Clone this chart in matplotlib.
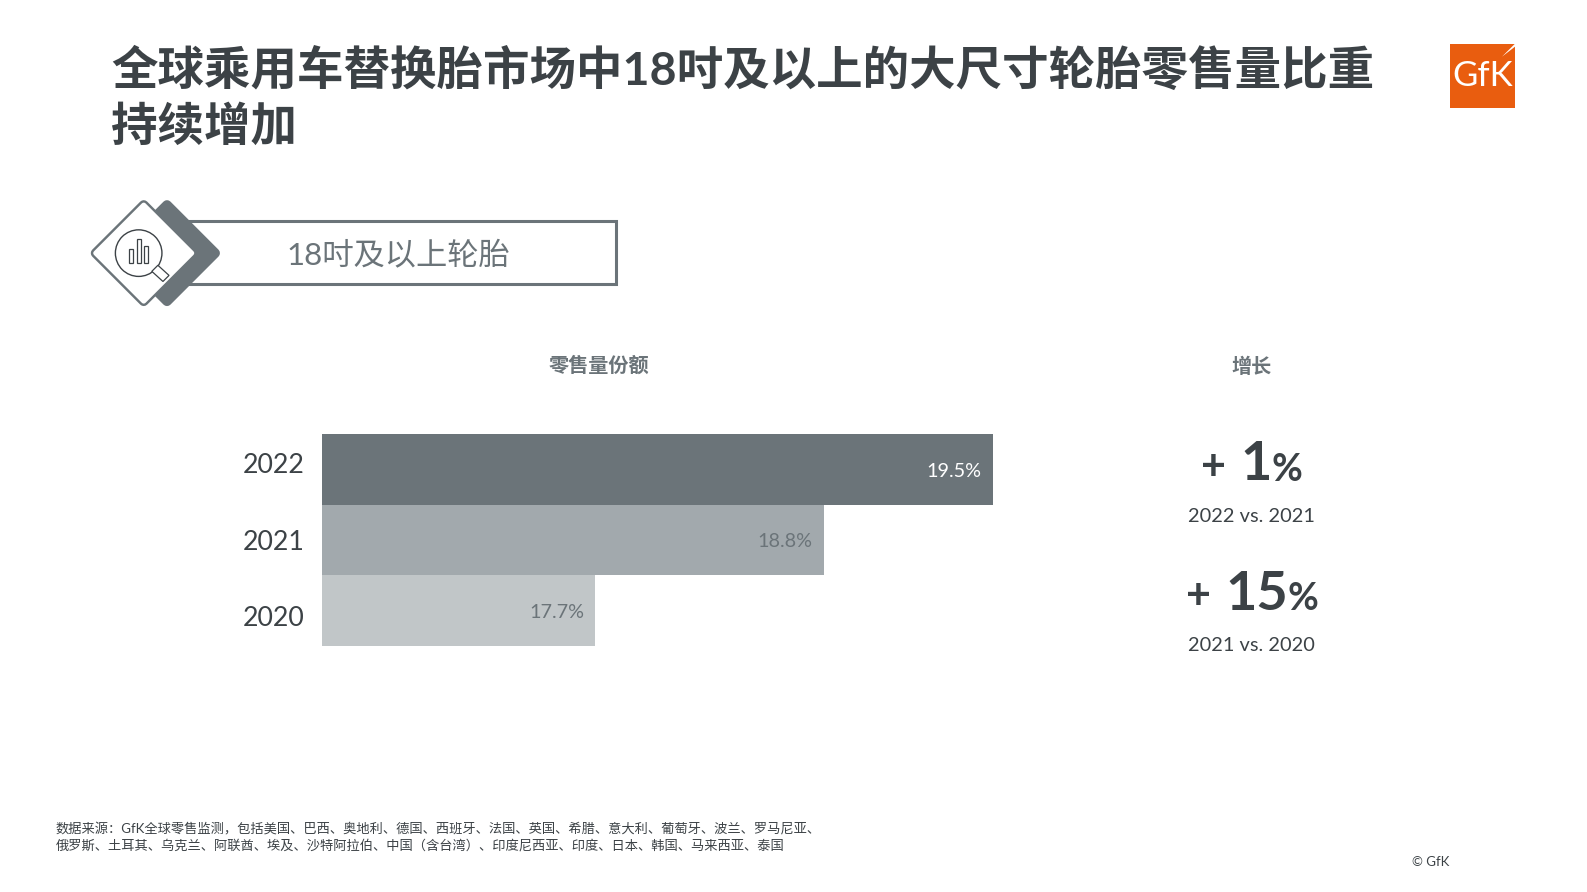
import matplotlib
matplotlib.use('Agg')
import matplotlib.pyplot as plt
from matplotlib.patches import Circle, Polygon, Rectangle

plt.rcParams['font.family'] = ['Lato', 'Noto Sans CJK SC', 'DejaVu Sans']

# data
years = ['2020', '2021', '2022']
share_labels = ['17.7%', '18.8%', '19.5%']
bar_lengths = [270, 496, 663]  # drawn length, the chart does not start at zero
bar_colors = ['#c1c6c8', '#a2a9ad', '#6b7479']
label_colors = ['#6b7479', '#6b7479', '#ffffff']
growth_values = ['1', '15']
growth_captions = ['2022 vs. 2021', '2021 vs. 2020']

title_lines = ['全球乘用车替换胎市场中18吋及以上的大尺寸轮胎零售量比重', '持续增加']
source_lines = [
    '数据来源：GfK全球零售监测，包括美国、巴西、奥地利、德国、西班牙、法国、英国、希腊、意大利、葡萄牙、波兰、罗马尼亚、',
    '俄罗斯、土耳其、乌克兰、阿联酋、埃及、沙特阿拉伯、中国（含台湾）、印度尼西亚、印度、日本、韩国、马来西亚、泰国',
]

# layout grid, a bit smaller than the output so the numbers below stay as measured
W, H = 1568, 881
DARK = '#3c4246'
GREY = '#6b7479'
ORANGE = '#e95d0f'


def diamond(cx, cy, r):
    return [(cx, cy - r), (cx + r, cy), (cx, cy + r), (cx - r, cy)]


fig = plt.figure(figsize=(15.87, 8.92), dpi=100)

page = fig.add_axes([0, 0, 1, 1])
page.set_xlim(0, W)
page.set_ylim(H, 0)
page.axis('off')

# title
page.text(110, 69.5, title_lines[0], fontsize=33.45, fontweight='bold', color=DARK, va='center')
page.text(110, 125, title_lines[1], fontsize=33.45, fontweight='bold', color=DARK, va='center')

# logo
page.add_patch(Rectangle((1433, 43), 64, 64, color=ORANGE, lw=0))
page.text(1465, 75, 'GfK', fontsize=25, color='white', ha='center', va='center')
page.add_patch(Polygon([(1497, 43), (1484, 56), (1497, 46)], color='white', lw=0))

# header box with icon
page.add_patch(Rectangle((160, 218.5), 449, 62, fc='white', ec=GREY, lw=2.2))
page.add_patch(Polygon(diamond(165, 250, 47.5), fc=GREY, ec=GREY, lw=7, joinstyle='round'))
page.add_patch(Polygon(diamond(142, 250, 47.5), fc=GREY, ec=GREY, lw=7, joinstyle='round'))
page.add_patch(Polygon(diamond(142, 250, 47.5), fc='white', ec='white', lw=3.5, joinstyle='round'))
page.add_patch(Circle((137, 250), 23, fc='white', ec=DARK, lw=1))
for bx, top in [(127.5, 246), (135, 236), (142.5, 243)]:
    page.add_patch(Rectangle((bx, top), 4, 260 - top, fc='white', ec=DARK, lw=0.9))
page.add_patch(Polygon([(150, 268), (156, 262), (167, 272), (161, 278)],
                       fc='white', ec=DARK, lw=0.9))
page.text(393.5, 252, '18吋及以上轮胎', fontsize=22.5, color=GREY, ha='center', va='center')

# column headers
page.text(592, 361, '零售量份额', fontsize=14.5, fontweight='bold', color=GREY, ha='center', va='center')
page.text(1237, 362, '增长', fontsize=14.5, fontweight='bold', color=GREY, ha='center', va='center')

# bars
ax = fig.add_axes([318 / W, 1 - 638 / H, 663 / W, 209 / H])
ax.barh(years, bar_lengths, height=1.0, color=bar_colors)
ax.set_xlim(0, 663)
ax.set_ylim(-0.5, 2.5)
ax.axis('off')
for i, length in enumerate(bar_lengths):
    ax.annotate(share_labels[i], (length, i), xytext=(-8, -1.3), textcoords='offset points',
                fontsize=14.2, color=label_colors[i], ha='right', va='center')

# year labels sit a little off the bar centres in the original
for year, y in zip(years, [611, 536, 460]):
    page.text(301, y, year, fontsize=19.3, color=DARK, ha='right', va='center')

# growth figures
for value, caption, y, x_plus, x_num, x_pct in zip(
        growth_values, growth_captions, [457, 585], [1199, 1184], [1241, 1242], [1272, 1287]):
    page.text(x_plus, y + 4, '+', fontsize=31, fontweight='bold', color=DARK, ha='center', va='center')
    page.text(x_num, y + 2, value, fontsize=39, fontweight='bold', color=DARK, ha='center', va='center')
    page.text(x_pct, y + 7, '%', fontsize=27, fontweight='bold', color=DARK, ha='center', va='center')
    page.text(1236, y + 53, caption, fontsize=14.4, color=DARK, ha='center', va='center')

# footer
page.text(55, 818.5, source_lines[0], fontsize=9.54, color=DARK, va='center')
page.text(55, 834.5, source_lines[1], fontsize=9.54, color=DARK, va='center')
page.text(1395, 851, '© GfK', fontsize=9.5, color=DARK, va='center')

fig.savefig('out.png', dpi=100)
